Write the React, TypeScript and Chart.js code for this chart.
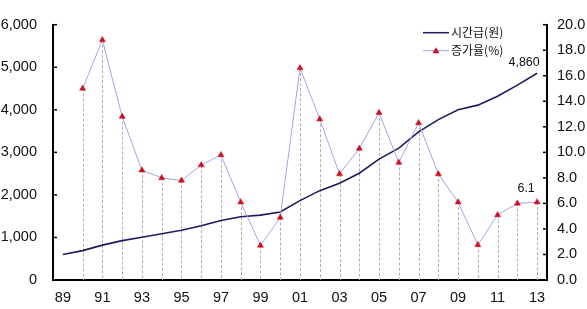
import React, { useEffect, useRef } from "react";
import { Chart, registerables } from "chart.js";

Chart.register(...registerables);

const years = ["89","90","91","92","93","94","95","96","97","98","99","00","01","02","03","04","05","06","07","08","09","10","11","12","13"];
const wage = [600,690,820,925,1005,1085,1170,1275,1400,1485,1525,1600,1865,2100,2275,2510,2840,3100,3480,3770,4000,4110,4320,4580,4860];
const growth = [null,15.0,18.8,12.8,8.6,8.0,7.8,9.0,9.8,6.1,2.7,4.9,16.6,12.6,8.3,10.3,13.1,9.2,12.3,8.3,6.1,2.75,5.1,6.0,6.1];
const leftTicks = [0,1000,2000,3000,4000,5000,6000];
const rightTicks = [0,2,4,6,8,10,12,14,16,18,20];
const seriesNames = ["시간급(원)", "증가율(%)"];
const lastWageLabel = "4,860";
const lastGrowthLabel = "6.1";

const WAGE_COLOR = "#1c1c5c";
const GROWTH_COLOR = "#a4a4e4";
const MARK_COLOR = "#cc1020";
const FONT = "'Liberation Sans', Arial, sans-serif";
const KFONT = "'Noto Sans CJK KR', sans-serif";

const extrasPlugin = {
  id: "extras",
  beforeDatasetsDraw(chart: any) {
    const ctx = chart.ctx;
    const meta = chart.getDatasetMeta(1);
    const bottom = chart.chartArea.bottom;
    ctx.save();
    ctx.strokeStyle = "#b0b0b0";
    ctx.lineWidth = 1;
    ctx.setLineDash([3, 2]);
    meta.data.forEach((pt: any, i: number) => {
      if (growth[i] == null) return;
      const x = Math.round(pt.x) + 0.5;
      ctx.beginPath();
      ctx.moveTo(x, pt.y);
      ctx.lineTo(x, bottom);
      ctx.stroke();
    });
    ctx.restore();
  },
  afterDraw(chart: any) {
    const ctx = chart.ctx;
    const area = chart.chartArea;
    const yl = chart.scales.y;
    const yr = chart.scales.y1;
    ctx.save();
    ctx.strokeStyle = "#000";
    ctx.lineWidth = 1.5;
    leftTicks.forEach((v) => {
      const y = yl.getPixelForValue(v);
      ctx.beginPath();
      ctx.moveTo(area.left, y);
      ctx.lineTo(area.left + 4, y);
      ctx.stroke();
    });
    rightTicks.forEach((v) => {
      const y = yr.getPixelForValue(v);
      ctx.beginPath();
      ctx.moveTo(area.right, y);
      ctx.lineTo(area.right - 4, y);
      ctx.stroke();
    });

    ctx.fillStyle = "#111";
    ctx.font = "12.5px " + FONT;
    ctx.textAlign = "center";
    ctx.textBaseline = "middle";
    const m0 = chart.getDatasetMeta(0).data;
    const m1 = chart.getDatasetMeta(1).data;
    const p0 = m0[m0.length - 1];
    const p1 = m1[m1.length - 1];
    ctx.fillText(lastWageLabel, p0.x - 13, p0.y - 11);
    ctx.fillText(lastGrowthLabel, p1.x - 11, p1.y - 14);

    const lx = area.left + 370;
    const ly1 = area.top + 8;
    const ly2 = area.top + 26;
    ctx.setLineDash([]);
    ctx.lineWidth = 1.5;
    ctx.strokeStyle = WAGE_COLOR;
    ctx.beginPath();
    ctx.moveTo(lx, ly1);
    ctx.lineTo(lx + 26, ly1);
    ctx.stroke();
    ctx.lineWidth = 1;
    ctx.strokeStyle = GROWTH_COLOR;
    ctx.beginPath();
    ctx.moveTo(lx, ly2);
    ctx.lineTo(lx + 26, ly2);
    ctx.stroke();
    ctx.fillStyle = MARK_COLOR;
    ctx.beginPath();
    const cx = lx + 13;
    ctx.moveTo(cx, ly2 - 3.5);
    ctx.lineTo(cx + 3.5, ly2 + 2.5);
    ctx.lineTo(cx - 3.5, ly2 + 2.5);
    ctx.closePath();
    ctx.fill();
    ctx.fillStyle = "#111";
    ctx.font = "12px " + KFONT;
    ctx.textAlign = "left";
    ctx.fillText(seriesNames[0], lx + 28, ly1);
    ctx.fillText(seriesNames[1], lx + 28, ly2);
    ctx.restore();
  },
};

export default function App() {
  const ref = useRef<HTMLCanvasElement | null>(null);
  useEffect(() => {
    document.body.style.margin = "0";
    const canvas = ref.current;
    if (!canvas) return;
    const chart = new Chart(canvas, {
      type: "line",
      data: {
        labels: years,
        datasets: [
          {
            label: seriesNames[0],
            data: wage,
            yAxisID: "y",
            borderColor: WAGE_COLOR,
            borderWidth: 1.6,
            pointRadius: 0,
            tension: 0,
            order: 1,
          },
          {
            label: seriesNames[1],
            data: growth,
            yAxisID: "y1",
            borderColor: GROWTH_COLOR,
            borderWidth: 1,
            pointStyle: "triangle",
            pointRadius: 3.5,
            pointBackgroundColor: MARK_COLOR,
            pointBorderColor: MARK_COLOR,
            pointBorderWidth: 0.5,
            tension: 0,
            spanGaps: false,
            order: 0,
          },
        ],
      },
      options: {
        animation: false,
        responsive: false,
        maintainAspectRatio: false,
        layout: { padding: { top: 3.3, left: 0, right: 0, bottom: 0 } },
        plugins: { legend: { display: false }, tooltip: { enabled: false } },
        scales: {
          x: {
            type: "category",
            offset: true,
            grid: { display: false, drawTicks: false },
            border: { display: true, color: "#000", width: 2 },
            ticks: {
              autoSkip: false,
              maxRotation: 0,
              padding: 9,
              color: "#111",
              font: { family: FONT, size: 14.5 },
              callback: (_v: any, i: number) => (i % 2 === 0 ? years[i] : ""),
            },
            afterFit: (s: any) => { s.height = 29; },
          },
          y: {
            position: "left",
            min: 0,
            max: 6000,
            grid: { display: true, drawOnChartArea: false, drawTicks: false },
            border: { display: true, color: "#000", width: 2 },
            ticks: {
              stepSize: 1000,
              padding: 16,
              color: "#111",
              font: { family: FONT, size: 14.5 },
              callback: (v: any) => Number(v).toLocaleString("en-US"),
            },
            afterFit: (s: any) => { s.width = 53; },
          },
          y1: {
            position: "right",
            min: 0,
            max: 20,
            grid: { display: true, drawOnChartArea: false, drawTicks: false },
            border: { display: true, color: "#000", width: 2 },
            ticks: {
              stepSize: 2,
              padding: 10,
              color: "#111",
              font: { family: FONT, size: 14.5 },
              callback: (v: any) => Number(v).toFixed(1),
            },
            afterFit: (s: any) => { s.width = 40; },
          },
        },
      },
      plugins: [extrasPlugin],
    } as any);
    return () => chart.destroy();
  }, []);
  return (
    <div style={{ width: 587, height: 309, background: "#fff" }}>
      <canvas ref={ref} width={587} height={309} style={{ display: "block" }} />
    </div>
  );
}
